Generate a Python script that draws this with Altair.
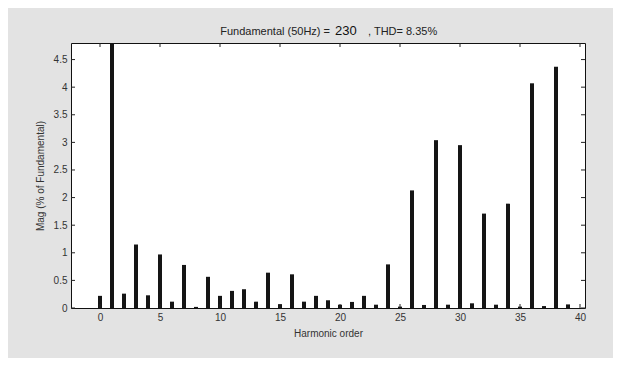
import altair as alt
import pandas as pd

harmonics = list(range(0, 40))
magnitudes = [0.22, 100.0, 0.26, 1.15, 0.23, 0.97, 0.115, 0.78, 0.02, 0.565,
              0.22, 0.31, 0.34, 0.115, 0.64, 0.07, 0.61, 0.115, 0.22, 0.14,
              0.06, 0.11, 0.22, 0.06, 0.79, 0.025, 2.13, 0.055, 3.04, 0.06,
              2.95, 0.085, 1.71, 0.06, 1.89, 0.025, 4.07, 0.035, 4.37, 0.065]
x_ticks = [0, 5, 10, 15, 20, 25, 30, 35, 40]
y_ticks = [0, 0.5, 1, 1.5, 2, 2.5, 3, 3.5, 4, 4.5]
title_parts = ["Fundamental (50Hz) = ", "230", ", THD= 8.35%"]

W, H = 514, 265
FONT = "Liberation Sans"

df = pd.DataFrame({"h": harmonics, "m": magnitudes})
xt = pd.DataFrame({"h": x_ticks})
yt = pd.DataFrame({"m": y_ticks})
one = pd.DataFrame({"a": [0]})

xs = alt.Scale(domain=[-2, 40], nice=False, zero=False)
ys = alt.Scale(domain=[0, 4.8], nice=False, zero=False)

x_axis = alt.Axis(
    values=x_ticks, ticks=False, domain=False, grid=False, format="~g",
    labelOverlap=False,
    title="Harmonic order", labelPadding=4, titlePadding=6,
    labelFontSize=10, titleFontSize=10, labelColor="#333", titleColor="#333",
    labelFont=FONT, titleFont=FONT, titleFontWeight="normal")
y_axis = alt.Axis(
    values=y_ticks, ticks=False, domain=False, grid=False, format="~g",
    labelOverlap=False,
    title="Mag (% of Fundamental)", labelPadding=4, titlePadding=8,
    labelFontSize=10, titleFontSize=10, labelColor="#333", titleColor="#333",
    labelFont=FONT, titleFont=FONT, titleFontWeight="normal")

X = alt.X("h:Q", scale=xs, axis=x_axis)
Y = alt.Y("m:Q", scale=ys, axis=y_axis)

bars = alt.Chart(df).mark_bar(width=4, color="#151515", clip=True).encode(x=X, y=Y)

tick_style = dict(color="#222", strokeWidth=1)
yl = alt.Chart(yt).mark_rule(**tick_style).encode(
    y=Y, x=alt.value(0), x2=alt.value(4))
yr = alt.Chart(yt).mark_rule(**tick_style).encode(
    y=Y, x=alt.value(W - 4), x2=alt.value(W))
xb = alt.Chart(xt).mark_rule(**tick_style).encode(
    x=X, y=alt.value(H), y2=alt.value(H - 4))
xtp = alt.Chart(xt).mark_rule(**tick_style).encode(
    x=X, y=alt.value(0), y2=alt.value(4))

t1 = alt.Chart(one).mark_text(align="right", baseline="alphabetic", fontSize=11,
                              font=FONT, color="#222").encode(
    x=alt.value(259), y=alt.value(-8), text=alt.value(title_parts[0]))
t2 = alt.Chart(one).mark_text(align="left", baseline="alphabetic", fontSize=13,
                              font=FONT, color="#111").encode(
    x=alt.value(264), y=alt.value(-8), text=alt.value(title_parts[1]))
t3 = alt.Chart(one).mark_text(align="left", baseline="alphabetic", fontSize=11,
                              font=FONT, color="#222").encode(
    x=alt.value(297), y=alt.value(-8), text=alt.value(title_parts[2]))

chart = alt.layer(bars, yl, yr, xb, xtp, t1, t2, t3).properties(
    width=W, height=H,
    autosize=alt.AutoSizeParams(type="none"),
    padding={"left": 63, "top": 35, "right": 28, "bottom": 50},
    background="#e3e3e3",
).configure_view(stroke="#111", strokeWidth=1, fill="white")

chart.save("out.html", embed_options={"renderer": "svg", "actions": False})
